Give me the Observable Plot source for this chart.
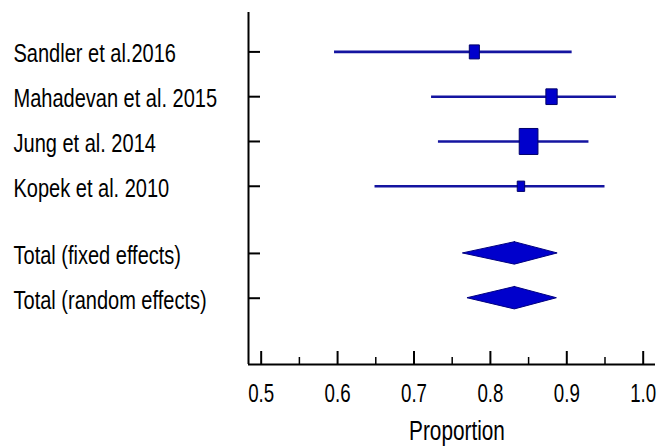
<!DOCTYPE html>
<html>
<head>
<meta charset="utf-8">
<script src="https://cdn.jsdelivr.net/npm/d3@7"></script>
<script src="https://cdn.jsdelivr.net/npm/@observablehq/plot@0.6"></script>
<style>
  html, body { margin: 0; padding: 0; background: #fff; }
  #chart svg { display: block; background: #fff; }
</style>
</head>
<body>
<div id="chart"></div>
<script>
// ---- data ----
const studies = ["Sandler et al.2016", "Mahadevan et al. 2015", "Jung et al. 2014", "Kopek et al. 2010"];
const estimates = [0.779, 0.880, 0.850, 0.840];
const lowers = [0.596, 0.723, 0.732, 0.649];
const uppers = [0.907, 0.965, 0.929, 0.950];
const weights = [16.0, 20.1, 55.2, 8.7];

const summaryLabels = ["Total (fixed effects)", "Total (random effects)"];
const summaryEst = [0.832, 0.832];
const summaryLo = [0.764, 0.770];
const summaryHi = [0.888, 0.887];

const majorTicks = [0.5, 0.6, 0.7, 0.8, 0.9, 1.0];
const minorTicks = [0.55, 0.65, 0.75, 0.85, 0.95];
const xLabel = "Proportion";

// ---- layout ----
const W = 658, H = 446;
const mL = 248, mR = 3, mT = 12, mB = 82;
const xDomain = [0.4834, 1.0161];
const yDomain = [6.98, -0.88];
const pxX = (W - mL - mR) / (xDomain[1] - xDomain[0]);
const pxY = (H - mT - mB) / (yDomain[0] - yDomain[1]);
const xMin = xDomain[0], yBottom = yDomain[0];

const studyRows = studies.map((s, i) => ({
  label: s, row: i, est: estimates[i], lo: lowers[i], hi: uppers[i], w: weights[i]
}));
const summaryRows = summaryLabels.map((s, j) => ({
  label: s, row: studies.length + 0.5 + j, est: summaryEst[j], lo: summaryLo[j], hi: summaryHi[j]
}));
const allRows = [...studyRows, ...summaryRows];

const diamondPts = summaryRows.flatMap((d, j) => [
  {z: j, y: d.row - 0.25, x1: d.est, x2: d.est},
  {z: j, y: d.row, x1: d.lo, x2: d.hi},
  {z: j, y: d.row + 0.25, x1: d.est, x2: d.est}
]);

const aspect = 0.72;
const rectSymbol = {
  draw(context, size) {
    const r = Math.sqrt(size / Math.PI);
    const w = r * aspect;
    context.moveTo(-w, -r);
    context.lineTo(w, -r);
    context.lineTo(w, r);
    context.lineTo(-w, r);
    context.closePath();
  }
};

const FONT = "'Liberation Sans', Arial, sans-serif";

const chart = Plot.plot({
  width: W,
  height: H,
  marginLeft: mL,
  marginRight: mR,
  marginTop: mT,
  marginBottom: mB,
  style: {fontFamily: FONT, color: "#000", background: "#fff", overflow: "visible"},
  x: {domain: xDomain, axis: null},
  y: {domain: yDomain, axis: null},
  r: {type: "sqrt", domain: [0, d3.max(weights)], range: [0, 13]},
  marks: [
    // CI lines
    Plot.ruleY(studyRows, {y: "row", x1: "lo", x2: "hi", stroke: "#1414a0", strokeWidth: 2.6}),
    // squares
    Plot.dot(studyRows, {x: "est", y: "row", r: "w", symbol: rectSymbol, fill: "#0000cc", stroke: "#00006a", strokeWidth: 1}),
    // diamonds
    Plot.areaX(diamondPts, {y: "y", x1: "x1", x2: "x2", z: "z", fill: "#0000cc", stroke: "#000080", strokeWidth: 1, curve: "linear"}),
    // axes lines
    Plot.ruleX([xMin], {stroke: "#000", strokeWidth: 2}),
    Plot.ruleY([yBottom], {stroke: "#000", strokeWidth: 2}),
    // y ticks (inward)
    Plot.ruleY(allRows, {y: "row", x1: xMin, x2: xMin + 12 / pxX, stroke: "#000", strokeWidth: 2}),
    // x ticks (inward)
    Plot.ruleX(majorTicks, {x: d => d, y1: yBottom, y2: yBottom - 13 / pxY, stroke: "#000", strokeWidth: 2}),
    Plot.ruleX(minorTicks, {x: d => d, y1: yBottom, y2: yBottom - 7 / pxY, stroke: "#000", strokeWidth: 1.5}),
    // row labels
    Plot.text(allRows, {x: xMin, y: "row", text: "label", textAnchor: "start", lineAnchor: "middle", dx: 13 - mL, dy: 2, fontSize: 26, fill: "#000", fontFamily: FONT}),
    // x tick labels
    Plot.axisX(majorTicks, {anchor: "bottom", tickSize: 0, tickPadding: 19, tickFormat: d3.format(".1f"), fontSize: 26, fontFamily: FONT, fill: "#000", label: null}),
    // x axis title
    Plot.text([xLabel], {frameAnchor: "bottom", text: d => d, lineAnchor: "top", dy: 56, dx: 5, fontSize: 27, fill: "#000", fontFamily: FONT})
  ]
});

document.getElementById("chart").appendChild(chart);

// horizontally condense the text (about its anchor point) to match the reference
chart.querySelectorAll("text").forEach(t => {
  const isTick = /^\d\.\d$/.test(t.textContent.trim());
  const k = isTick ? 0.72 : 0.77;
  const x0 = parseFloat(t.getAttribute("x")) || 0;
  const tr = t.getAttribute("transform") || "";
  t.setAttribute("transform", `${tr} translate(${x0},0) scale(${k},1) translate(${-x0},0)`.trim());
});
</script>
</body>
</html>
